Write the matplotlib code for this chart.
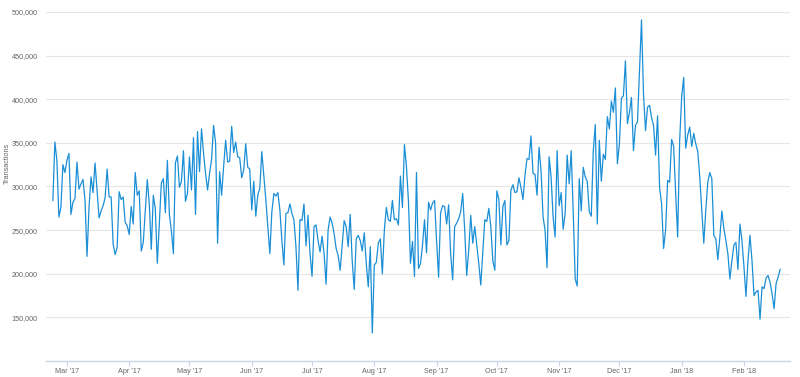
import matplotlib
matplotlib.use("Agg")
import matplotlib.pyplot as plt
import matplotlib.dates as mdates
import matplotlib.ticker as mticker
import pandas as pd

# daily confirmed transactions (thousands)
tx_mar_apr = [284, 351, 330, 265, 276, 325, 316, 330, 338, 268,
              282, 286, 328, 297, 303, 308, 284, 220, 276, 311,
              293, 327, 295, 264, 272, 278, 287, 320, 288, 288,
              234, 222, 230, 294, 285, 288, 259, 255, 245, 277,
              257, 316, 290, 295, 226, 236, 272, 308, 280, 228,
              290, 274, 212, 259, 304, 309, 270, 330, 268, 249]
tx_may_jun = [223, 327, 335, 299, 306, 341, 283, 292, 334, 296,
              356, 268, 363, 317, 366, 338, 315, 296, 315, 331,
              370, 350, 235, 317, 290, 323, 353, 328, 329, 369,
              339, 351, 334, 333, 310, 319, 349, 322, 320, 273,
              306, 266, 290, 298, 340, 312, 285, 254, 223, 271,
              292, 289, 293, 273, 238, 210, 269, 270, 280, 269,
              262]
tx_jul_aug = [231, 181, 262, 261, 280, 232, 267, 223, 197, 254,
              256, 238, 225, 243, 223, 188, 250, 265, 258, 246,
              229, 221, 204, 233, 261, 254, 231, 268, 215, 182,
              240, 244, 238, 226, 247, 212, 185, 231, 132, 210,
              213, 235, 240, 200, 250, 276, 262, 260, 284, 262,
              263, 256, 312, 276, 348, 323, 283, 212, 237, 197,
              316]
tx_sep_oct = [206, 212, 233, 262, 224, 282, 273, 281, 284, 238,
              196, 270, 278, 277, 257, 279, 223, 193, 254, 258,
              263, 271, 292, 250, 198, 227, 267, 235, 254, 233,
              212, 187, 225, 262, 260, 275, 254, 215, 204, 295,
              285, 233, 277, 284, 233, 238, 296, 302, 293, 294,
              310, 299, 285, 313, 332, 331, 358, 315, 314, 290,
              345]
tx_nov_dec = [318, 265, 250, 207, 334, 311, 265, 242, 341, 278,
              293, 251, 269, 336, 303, 341, 272, 194, 186, 309,
              272, 322, 311, 306, 271, 266, 341, 371, 257, 353,
              306, 337, 331, 380, 366, 398, 385, 413, 326, 349,
              401, 404, 444, 372, 385, 402, 341, 370, 374, 433,
              491, 406, 364, 391, 393, 379, 370, 336, 381, 299]
tx_jan_feb = [280, 229, 250, 307, 305, 354, 346, 292, 242, 353,
              403, 425, 344, 359, 368, 346, 361, 349, 340, 311,
              273, 235, 273, 305, 316, 309, 244, 240, 216, 242,
              272, 252, 238, 223, 194, 215, 233, 236, 205, 257,
              238, 208, 174, 215, 244, 215, 175, 179, 181, 148,
              185, 183, 195, 198, 190, 177, 160, 189, 196, 205]

transactions = [v * 1000 for v in
                tx_mar_apr + tx_may_jun + tx_jul_aug + tx_sep_oct + tx_nov_dec + tx_jan_feb]
dates = pd.date_range("2017-02-22", periods=len(transactions), freq="D")

label_color = "#666666"
font = ["Liberation Sans", "DejaVu Sans"]

fig = plt.figure(figsize=(8, 3.77), dpi=100)
ax = fig.add_axes([46 / 800, 16 / 377, 744 / 800, 349 / 377])

ax.plot(dates, transactions, color="#1b8fd6", linewidth=0.9)

ax.set_ylim(100000, 500000)
ax.set_xlim(pd.Timestamp("2017-02-18 14:00"), pd.Timestamp("2018-02-23 22:00"))
ax.yaxis.set_major_locator(mticker.MultipleLocator(50000))
ax.yaxis.set_major_formatter(mticker.FuncFormatter(
    lambda v, _: "" if v <= 100000 else f"{int(v):,}"))
ax.xaxis.set_major_locator(mdates.MonthLocator())
ax.xaxis.set_major_formatter(mdates.DateFormatter("%b '%y"))

ax.grid(axis="y", color="#e6e6e6", linewidth=0.8)
ax.set_axisbelow(True)
for side in ("top", "right", "left"):
    ax.spines[side].set_visible(False)
ax.spines["bottom"].set_color("#ccd6eb")
ax.spines["bottom"].set_linewidth(1.0)

ax.tick_params(axis="y", length=0, pad=6, labelsize=5.2, labelcolor=label_color)
ax.tick_params(axis="x", length=3.5, width=0.8, color="#ccd6eb", pad=1.5,
               labelsize=5.2, labelcolor=label_color)
for lbl in ax.get_xticklabels() + ax.get_yticklabels():
    lbl.set_family(font)

fig.text(7 / 800, 1 - 163 / 377, "Transactions", rotation=90, ha="center", va="center",
         fontsize=5.2, color=label_color, family=font)

fig.savefig("out.png", dpi=100)
